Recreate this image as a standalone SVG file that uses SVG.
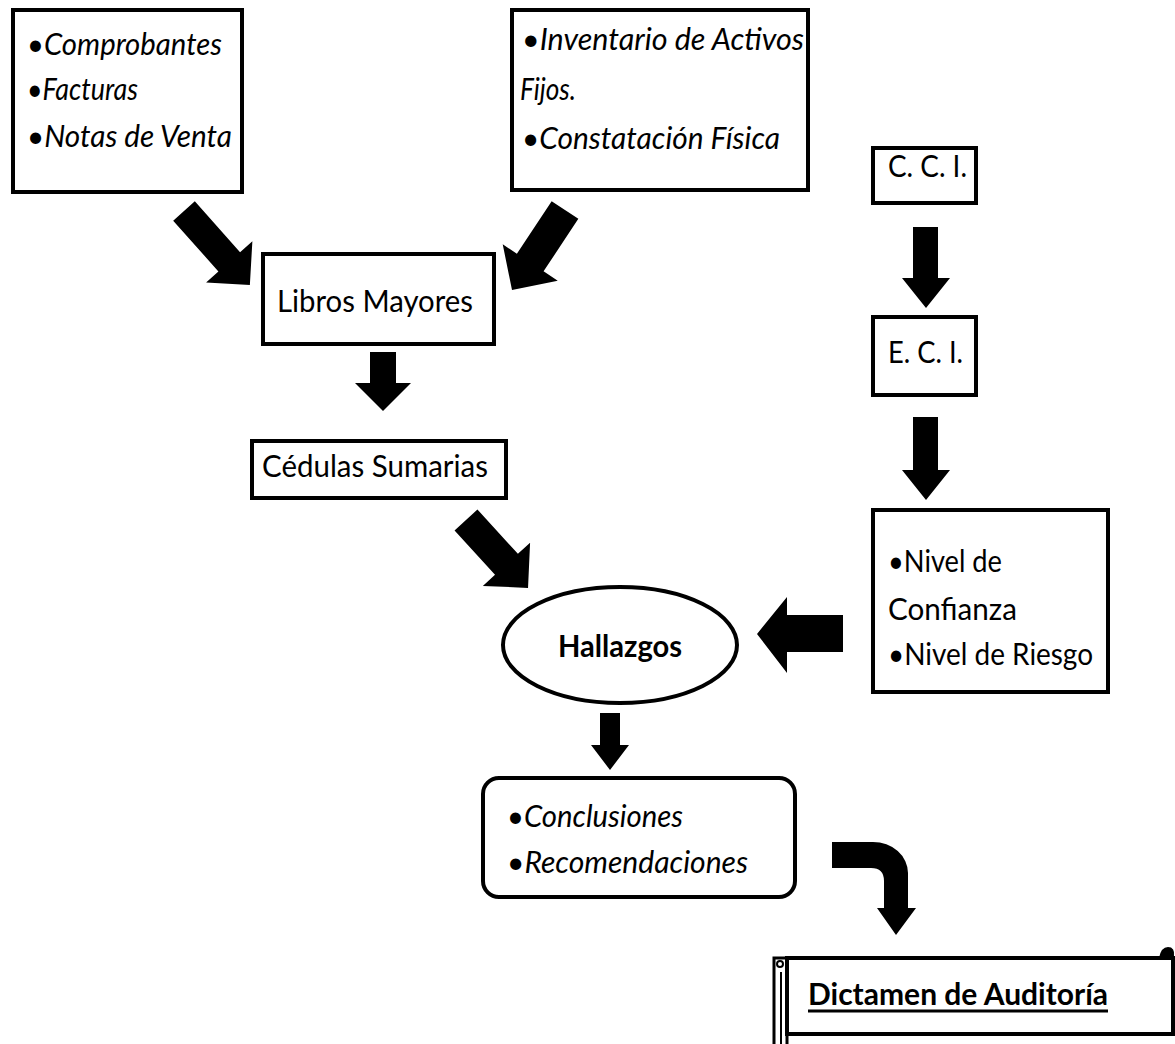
<svg xmlns="http://www.w3.org/2000/svg" width="1175" height="1044" viewBox="0 0 1175 1044">
  <style>
    .box { fill: #fff; stroke: #000; stroke-width: 4; }
    .thin { fill: #fff; stroke: #000; stroke-width: 3; }
    .arrow { fill: #000; stroke: none; }
    .t { font-family: Lato, "Open Sans", "Liberation Sans", sans-serif; font-size: 31px; fill: #000; }
    .it { font-style: italic; }
    .b { font-weight: bold; }
  </style>
  <rect width="1175" height="1044" fill="#fff"/>

  <!-- source documents -->
  <g id="documentos">
    <rect class="box" x="13" y="10" width="229" height="182"/>
    <text class="t it" x="27" y="55" textLength="195" lengthAdjust="spacingAndGlyphs">•Comprobantes</text>
    <text class="t it" x="27" y="100" textLength="111" lengthAdjust="spacingAndGlyphs">•Facturas</text>
    <text class="t it" x="27" y="147" textLength="205" lengthAdjust="spacingAndGlyphs">•Notas de Venta</text>
  </g>

  <g id="activos">
    <rect class="box" x="512" y="10" width="296" height="180"/>
    <text class="t it" x="522" y="50" textLength="282" lengthAdjust="spacingAndGlyphs">•Inventario de Activos</text>
    <text class="t it" x="520" y="100" textLength="56" lengthAdjust="spacingAndGlyphs">Fijos.</text>
    <text class="t it" x="522" y="149" textLength="258" lengthAdjust="spacingAndGlyphs">•Constatación Física</text>
  </g>

  <g id="cci">
    <rect class="box" x="873" y="148" width="103" height="55"/>
    <text class="t" x="888" y="177" textLength="79" lengthAdjust="spacingAndGlyphs">C. C. I.</text>
  </g>

  <g id="libros-mayores">
    <rect class="box" x="263" y="254" width="231" height="90"/>
    <text class="t" x="277" y="312" textLength="196" lengthAdjust="spacingAndGlyphs">Libros Mayores</text>
  </g>

  <g id="eci">
    <rect class="box" x="873" y="317" width="103" height="78"/>
    <text class="t" x="888" y="363" textLength="75" lengthAdjust="spacingAndGlyphs">E. C. I.</text>
  </g>

  <g id="cedulas-sumarias">
    <rect class="box" x="252" y="441" width="254" height="57"/>
    <text class="t" x="262" y="477" textLength="226" lengthAdjust="spacingAndGlyphs">Cédulas Sumarias</text>
  </g>

  <g id="niveles">
    <rect class="box" x="873" y="510" width="235" height="182"/>
    <text class="t" x="888" y="572" textLength="114" lengthAdjust="spacingAndGlyphs">•Nivel de</text>
    <text class="t" x="888" y="620" textLength="129" lengthAdjust="spacingAndGlyphs">Confianza</text>
    <text class="t" x="888" y="665" textLength="205" lengthAdjust="spacingAndGlyphs">•Nivel de Riesgo</text>
  </g>

  <g id="hallazgos">
    <ellipse class="box" cx="620" cy="645" rx="117" ry="58"/>
    <text class="t b" x="558" y="657" textLength="124" lengthAdjust="spacingAndGlyphs">Hallazgos</text>
  </g>

  <g id="conclusiones">
    <rect class="box" x="483" y="778" width="312" height="119" rx="16" ry="16"/>
    <text class="t it" x="507" y="827" textLength="176" lengthAdjust="spacingAndGlyphs">•Conclusiones</text>
    <text class="t it" x="507" y="873" textLength="241" lengthAdjust="spacingAndGlyphs">•Recomendaciones</text>
  </g>

  <!-- horizontal scroll, running past the lower edge -->
  <g id="dictamen">
    <rect class="thin" x="774" y="958" width="13" height="100"/>
    <line x1="781" y1="972" x2="781" y2="1050" stroke="#000" stroke-width="2"/>
    <rect class="box" x="787" y="958" width="386" height="76"/>
    <circle cx="780" cy="964" r="3" fill="#fff" stroke="#000" stroke-width="2"/>
    <path d="M1160 958 Q1162 948 1168 948 Q1174 948 1173 956" fill="#000" stroke="#000" stroke-width="2"/>
    <text class="t b" x="808" y="1005" textLength="300" lengthAdjust="spacingAndGlyphs">Dictamen de Auditoría</text>
    <line x1="808" y1="1011" x2="1108" y2="1011" stroke="#000" stroke-width="3"/>
  </g>

  <!-- block arrows -->
  <g id="connectors">
    <polygon class="arrow" transform="translate(184 211) rotate(48.3)" points="0,-14.5 68,-14.5 68,-31 99,0 68,31 68,14.5 0,14.5"/>
    <polygon class="arrow" transform="translate(565 210) rotate(123.5)" points="0,-16 63,-16 63,-33 96,0 63,33 63,16 0,16"/>
    <polygon class="arrow" points="370,352 396,352 396,383 411,383 383,411 355,383 370,383"/>
    <polygon class="arrow" points="913,227 938,227 938,278 950,278 926,308 902,278 913,278"/>
    <polygon class="arrow" points="913,417 938,417 938,470 950,470 926,500 902,470 913,470"/>
    <polygon class="arrow" transform="translate(466 520) rotate(47.6)" points="0,-15.5 60,-15.5 60,-32 92,0 60,32 60,15.5 0,15.5"/>
    <polygon class="arrow" points="843,615 843,652 787,652 787,673 757,634 787,597 787,615"/>
    <polygon class="arrow" points="600,713 620,713 620,745 629,745 610,770 591,745 600,745"/>
    <path class="arrow" d="M832 842 L873 842 A35 31 0 0 1 908 873 L908 908 L916 908 L896 935 L877 908 L884 908 L884 881 Q884 868 871 868 L832 868 Z"/>
  </g>
</svg>
